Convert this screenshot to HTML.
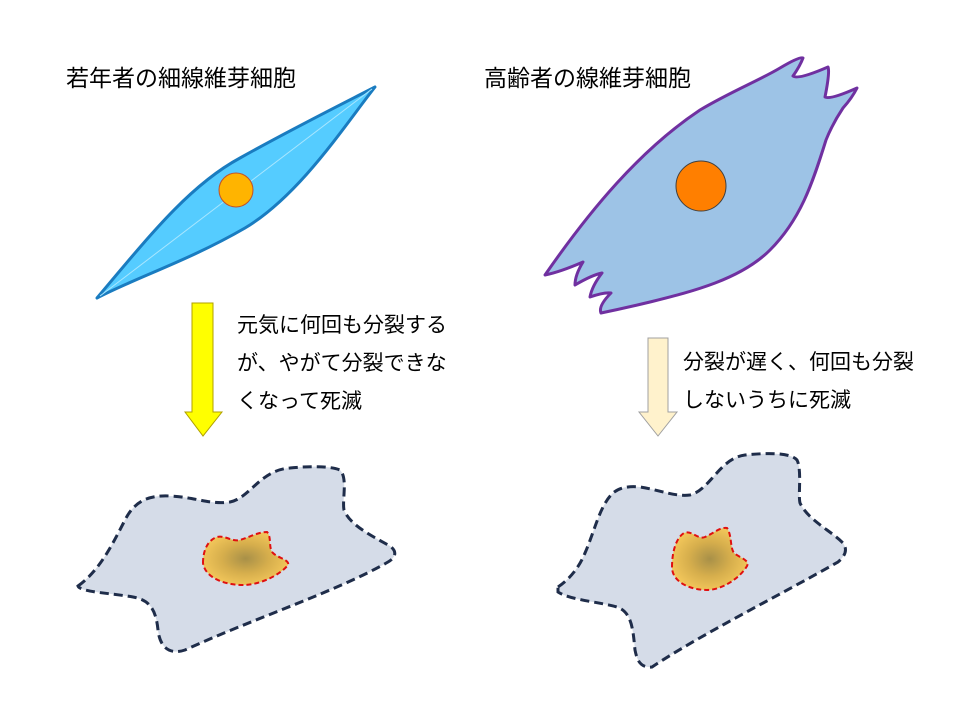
<!DOCTYPE html>
<html><head><meta charset="utf-8"><style>
body{margin:0;background:#fff}
svg text{font-family:"Liberation Sans","Noto Sans CJK JP",sans-serif;fill:#000}
</style></head><body>
<svg width="960" height="720" viewBox="0 0 960 720" xmlns="http://www.w3.org/2000/svg">
<defs>
<radialGradient id="g" cx="0.5" cy="0.5" r="0.55">
<stop offset="0" stop-color="#a89048"/><stop offset="0.5" stop-color="#d6ae4c"/><stop offset="1" stop-color="#f5c95c"/>
</radialGradient>
</defs>
<rect width="960" height="720" fill="#fff"/>
<text x="66" y="86" font-size="23">若年者の細線維芽細胞</text>
<text x="484" y="86" font-size="23">高齢者の線維芽細胞</text>

<!-- young cell -->
<path d="M97,298 C150,235 190,185 240,158 C290,130 340,105 375,87 C345,125 300,195 245,228 C190,260 135,278 97,298 Z" fill="#55ccff" stroke="#1a7cc0" stroke-width="3" stroke-linejoin="round"/>
<line x1="100" y1="296" x2="372" y2="89" stroke="#a8e6ff" stroke-width="1"/>
<circle cx="236" cy="190" r="17" fill="#ffb400" stroke="#c0502a" stroke-width="1"/>

<!-- old cell -->
<path d="M545,275 C590,210 640,150 700,110 C730,92 760,80 780,68 Q800,56 803,58 Q800,66 793,76 Q798,80 828,67 Q830,72 825,97 Q830,100 857,88 Q852,98 843,108 C835,120 830,130 826,140 C812,185 800,220 770,250 C740,280 690,292 650,302 Q625,308 601,313 Q598,306 611,293 Q604,292 590,297 Q592,286 602,273 Q592,275 575,285 Q575,275 583,262 Q560,272 545,275 Z" fill="#9dc3e6" stroke="#7030a0" stroke-width="3" stroke-linejoin="round"/>
<circle cx="701" cy="186" r="25" fill="#ff7f00" stroke="#404040" stroke-width="1"/>

<!-- arrows -->
<path d="M192,303 H213 V412 H222 L203,436 L185,412 H192 Z" fill="#ffff00" stroke="#b0a000" stroke-width="1"/>
<path d="M648,338 H668 V412 H677 L658,436 L639,412 H648 Z" fill="#fff2cc" stroke="#a0a0a0" stroke-width="1"/>

<text font-size="21"><tspan x="237" y="332">元気に何回も分裂する</tspan><tspan x="237" y="370">が、やがて分裂できな</tspan><tspan x="237" y="408">くなって死滅</tspan></text>
<text font-size="21"><tspan x="683" y="369">分裂が遅く、何回も分裂</tspan><tspan x="683" y="407">しないうちに死滅</tspan></text>

<!-- dead cell left -->
<path d="M78,586 C100,570 112,545 125,520 C135,500 150,495 170,496 C195,497 210,505 230,502 C250,498 260,470 290,468 C310,466 330,466 340,470 C348,478 342,500 344,510 C350,525 370,535 390,546 C398,552 395,558 388,562 C340,590 250,620 185,650 C170,655 160,648 158,630 C156,610 150,600 133,597 C110,593 80,592 78,586 Z" fill="#d5dce8" stroke="#1f2d4a" stroke-width="3" stroke-dasharray="9,5"/>
<path d="M203,563 C203,550 208,540 217,537 C225,535 232,542 240,540 C250,537 258,532 267,532 C272,537 268,548 273,553 C278,558 290,560 288,565 C280,575 260,585 243,585 C225,585 205,578 203,563 Z" fill="url(#g)" stroke="#e01010" stroke-width="2" stroke-dasharray="5,3"/>

<!-- dead cell right -->
<path d="M558,587 C568,580 578,570 585,553 C595,530 600,505 613,493 C620,487 630,486 640,487 C660,490 675,497 690,495 C710,490 720,458 745,455 C765,453 790,452 797,460 C802,470 798,495 800,503 C808,520 830,530 843,543 C848,550 845,556 838,562 C780,595 700,635 652,667 C640,668 637,660 635,650 C633,630 632,612 617,607 C600,602 570,600 558,592 Z" fill="#d5dce8" stroke="#1f2d4a" stroke-width="3" stroke-dasharray="9,5"/>
<path d="M672,567 C672,552 676,538 684,533 C692,530 698,540 705,537 C714,533 720,527 727,528 C732,535 730,548 734,553 C740,558 750,560 747,566 C740,578 722,590 707,590 C690,590 672,582 672,567 Z" fill="url(#g)" stroke="#e01010" stroke-width="2" stroke-dasharray="5,3"/>
</svg>
</body></html>
